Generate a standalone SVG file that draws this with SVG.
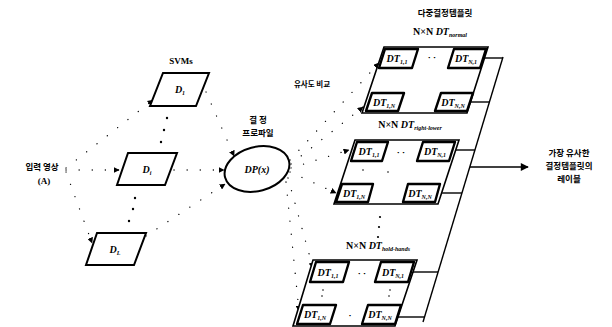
<svg xmlns="http://www.w3.org/2000/svg" width="612" height="327" viewBox="0 0 612 327">
<style>
.bg{fill:#fff}
.box{fill:#fff;stroke:#000;stroke-width:2}
.grid{fill:#fff;stroke:#000;stroke-width:1.6}
.dt{fill:#fff;stroke:#000;stroke-width:2.4;stroke-linejoin:round}
.dot{fill:none;stroke:#000;stroke-width:1.3;stroke-dasharray:0.1 13;stroke-linecap:round}
.ln{fill:none;stroke:#000;stroke-width:1.4}
.kr{font-family:"Noto Sans CJK KR","Noto Sans",sans-serif;font-size:8.5px;font-weight:bold;fill:#000;text-anchor:middle}
.it{font-family:"Liberation Serif",serif;font-style:italic;font-weight:bold;font-size:10px;fill:#000;text-anchor:middle}
.sub{font-size:6px}
.rm{font-family:"Liberation Serif",serif;font-weight:bold;font-size:9px;fill:#000;text-anchor:middle}
.dd{fill:#000}
</style>
<defs>
<marker id="ah" viewBox="0 0 10 10" refX="9" refY="5" markerWidth="6" markerHeight="6" orient="auto" markerUnits="userSpaceOnUse">
<path d="M0,0 L10,5 L0,10 z" fill="#000"/>
</marker>
<marker id="ahb" viewBox="0 0 10 10" refX="9" refY="5" markerWidth="9" markerHeight="8" orient="auto" markerUnits="userSpaceOnUse">
<path d="M0,0 L10,5 L0,10 z" fill="#000"/>
</marker>
</defs>
<rect class="bg" x="0" y="0" width="612" height="327"/>

<g id="connectors">
<line class="dot" x1="66" y1="170" x2="119" y2="170" marker-end="url(#ah)"/>
<line class="dot" x1="66" y1="168" x2="153" y2="100" marker-end="url(#ah)"/>
<line class="dot" x1="66" y1="172" x2="92" y2="243" marker-end="url(#ah)"/>
<line class="dot" x1="206" y1="92" x2="234" y2="156" marker-end="url(#ah)"/>
<line class="dot" x1="174" y1="170" x2="224" y2="170" marker-end="url(#ah)"/>
<line class="dot" x1="146" y1="236" x2="225" y2="184" marker-end="url(#ah)"/>
<line class="dot" x1="290" y1="160" x2="379" y2="63" marker-end="url(#ah)"/>
<line class="dot" x1="291" y1="164" x2="363" y2="107" marker-end="url(#ah)"/>
<line class="dot" x1="291" y1="168" x2="349" y2="150" marker-end="url(#ah)"/>
<line class="dot" x1="290" y1="172" x2="336" y2="193" marker-end="url(#ah)"/>
<line class="dot" x1="288" y1="178" x2="313" y2="268" marker-end="url(#ah)"/>
<line class="dot" x1="286" y1="182" x2="299" y2="311" marker-end="url(#ah)"/>
<line class="ln" x1="484.5" y1="58" x2="502.7" y2="58"/>
<line class="ln" x1="470.5" y1="102" x2="489.4" y2="102"/>
<line class="ln" x1="455.8" y1="150" x2="474.9" y2="150"/>
<line class="ln" x1="442.1" y1="193" x2="461.9" y2="193"/>
<line class="ln" x1="413" y1="272" x2="438.1" y2="272"/>
<line class="ln" x1="398" y1="317" x2="424.5" y2="317"/>
<line class="ln" x1="503" y1="57" x2="423" y2="322"/>
<line class="ln" x1="469.8" y1="167" x2="528" y2="167" stroke-width="1.8" marker-end="url(#ahb)"/>
</g>

<g id="input">
<text class="kr" x="42" y="170">입력 영상</text>
<text class="rm" x="44" y="184">(A)</text>
</g>

<g id="svm-label"><text class="rm" x="181" y="64">SVMs</text></g>

<g id="svm1">
<polygon class="box" points="163,73 209,73 196,106 150,106"/>
<text class="it" x="180" y="93">D<tspan class="sub" dy="2">1</tspan></text>
</g>
<g id="svm-dots1">
<circle class="dd" cx="167" cy="118" r="1.2"/><circle class="dd" cx="164" cy="130" r="1.2"/><circle class="dd" cx="161" cy="142" r="1.2"/>
</g>
<g id="svmi">
<polygon class="box" points="128,153 177,153 165,185 117,185"/>
<text class="it" x="147" y="173">D<tspan class="sub" dy="2">i</tspan></text>
</g>
<g id="svm-dots2">
<circle class="dd" cx="135" cy="198" r="1.2"/><circle class="dd" cx="133" cy="209" r="1.2"/><circle class="dd" cx="129" cy="221" r="1.2"/>
</g>
<g id="svmL">
<polygon class="box" points="97,233 146,233 134,265 86,265"/>
<text class="it" x="115" y="253">D<tspan class="sub" dy="2">L</tspan></text>
</g>

<g id="dp">
<text class="kr" x="258" y="123">결 정</text>
<text class="kr" x="258" y="136">프로파일</text>
<ellipse class="box" cx="257" cy="169" rx="33" ry="22" transform="rotate(-15 257 169)"/>
<text class="it" x="257" y="173">DP(x)</text>
</g>

<g id="title"><text class="kr" x="445" y="16">다중결정템플릿</text></g>
<g id="sim-label"><text class="kr" x="312" y="87" style="font-size:7.5px">유사도 비교</text></g>

<g id="grid1">
<text class="it" x="440" y="35"><tspan font-style="normal">N×N </tspan>DT<tspan class="sub" dy="2">normal</tspan></text>
<polygon class="grid" points="384,47 488,47 467,113 362,113"/>
<polygon class="dt" points="385,49 418,49 412,68 379,68"/>
<text class="it" x="397" y="62">DT<tspan class="sub" dy="2">1,1</tspan></text>
<polygon class="dt" points="454,49 486,49 480,68 448,68"/>
<text class="it" x="466" y="62">DT<tspan class="sub" dy="2">N,1</tspan></text>
<polygon class="dt" points="372,93 404,93 398,111 366,111"/>
<text class="it" x="384" y="106">DT<tspan class="sub" dy="2">1,N</tspan></text>
<polygon class="dt" points="441,93 473,93 467,111 435,111"/>
<text class="it" x="453" y="106">DT<tspan class="sub" dy="2">N,N</tspan></text>
<text class="rm" x="432" y="60">· ·</text>
</g>

<g id="grid2">
<text class="it" x="410" y="128"><tspan font-style="normal">N×N </tspan>DT<tspan class="sub" dy="2">right-lower</tspan></text>
<polygon class="grid" points="355,140 459,140 438,204 334,204"/>
<polygon class="dt" points="357,142 388,142 382,161 351,161"/>
<text class="it" x="369" y="155">DT<tspan class="sub" dy="2">1,1</tspan></text>
<polygon class="dt" points="423,142 455,142 449,161 417,161"/>
<text class="it" x="435" y="155">DT<tspan class="sub" dy="2">N,1</tspan></text>
<polygon class="dt" points="342,184 373,184 368,202 336,202"/>
<text class="it" x="354" y="197">DT<tspan class="sub" dy="2">1,N</tspan></text>
<polygon class="dt" points="408,184 440,184 435,202 403,202"/>
<text class="it" x="420" y="197">DT<tspan class="sub" dy="2">N,N</tspan></text>
<text class="rm" x="401" y="155">· ·</text>
<circle class="dd" cx="363" cy="170" r="0.8"/><circle class="dd" cx="388" cy="172" r="0.8"/>
</g>

<g id="grid-dots">
<circle class="dd" cx="380" cy="217" r="1.1"/><circle class="dd" cx="379" cy="227" r="1.1"/><circle class="dd" cx="378" cy="237" r="1.1"/>
</g>

<g id="grid3">
<text class="it" x="378" y="249"><tspan font-style="normal">N×N </tspan>DT<tspan class="sub" dy="2">hold-hands</tspan></text>
<polygon class="grid" points="313,260 417,260 395,326 293,326"/>
<polygon class="dt" points="316,262 349,262 343,282 310,282"/>
<text class="it" x="328" y="276">DT<tspan class="sub" dy="2">1,1</tspan></text>
<polygon class="dt" points="381,262 414,262 408,282 375,282"/>
<text class="it" x="393" y="276">DT<tspan class="sub" dy="2">N,1</tspan></text>
<polygon class="dt" points="303,305 336,305 330,324 297,324"/>
<text class="it" x="315" y="318">DT<tspan class="sub" dy="2">1,N</tspan></text>
<polygon class="dt" points="368,305 401,305 395,324 362,324"/>
<text class="it" x="380" y="318">DT<tspan class="sub" dy="2">N,N</tspan></text>
<text class="rm" x="362" y="276">· ·</text>
<text class="rm" x="350" y="318">·</text>
<circle class="dd" cx="323" cy="290" r="0.8"/><circle class="dd" cx="322" cy="296" r="0.8"/>
<circle class="dd" cx="390" cy="290" r="0.8"/><circle class="dd" cx="389" cy="296" r="0.8"/>
</g>

<g id="output">
<text class="kr" x="569" y="156">가장 유사한</text>
<text class="kr" x="569" y="169">결정템플릿의</text>
<text class="kr" x="569" y="182">레이블</text>
</g>
</svg>
